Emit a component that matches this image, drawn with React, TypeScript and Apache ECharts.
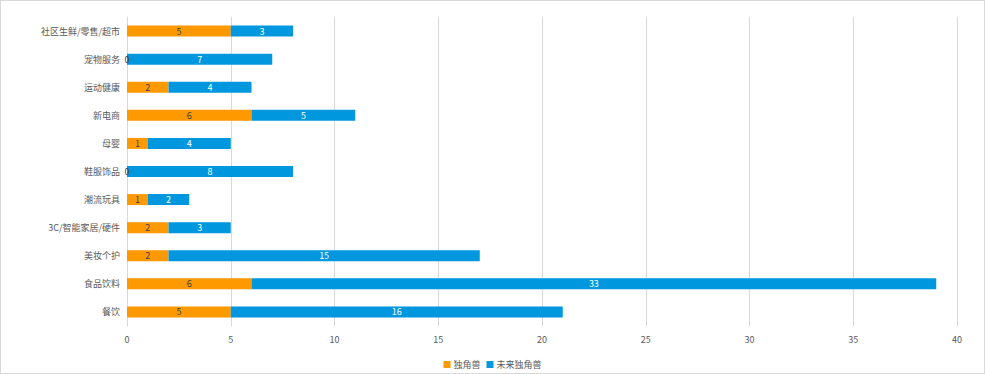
import React, { useEffect, useRef } from "react";
import * as echarts from "echarts";

const categories = [
  "社区生鲜/零售/超市",
  "宠物服务",
  "运动健康",
  "新电商",
  "母婴",
  "鞋服饰品",
  "潮流玩具",
  "3C/智能家居/硬件",
  "美妆个护",
  "食品饮料",
  "餐饮",
];
const unicorn = [5, 0, 2, 6, 1, 0, 1, 2, 2, 6, 5];
const futureUnicorn = [3, 7, 4, 5, 4, 8, 2, 3, 15, 33, 16];
const seriesNames = ["独角兽", "未来独角兽"];

const FONT = "'Noto Sans CJK SC', 'Noto Sans', sans-serif";

export default function App() {
  const ref = useRef<HTMLDivElement>(null);
  useEffect(() => {
    if (!ref.current) return;
    const chart = echarts.init(ref.current, undefined, { renderer: "svg" });
    chart.setOption({
      animation: false,
      textStyle: { fontFamily: FONT },
      legend: {
        data: seriesNames,
        top: 355,
        left: "center",
        itemWidth: 7,
        itemHeight: 7,
        itemGap: 6,
        icon: "rect",
        textStyle: { fontSize: 9, color: "#595959", fontFamily: FONT, padding: [0, 0, 0, -2] },
      },
      grid: { left: 127, right: 28, top: 17, bottom: 48 },
      xAxis: {
        type: "value",
        min: 0,
        max: 40,
        interval: 5,
        axisLine: { show: false },
        axisTick: { show: false },
        splitLine: { lineStyle: { color: "#d9d9d9", width: 1 } },
        axisLabel: { fontSize: 9, color: "#595959", margin: 9, fontFamily: FONT },
      },
      yAxis: {
        type: "category",
        data: categories,
        inverse: true,
        axisLine: { show: true, lineStyle: { color: "#d9d9d9" } },
        axisTick: { show: false },
        axisLabel: { fontSize: 9, color: "#595959", margin: 7, fontFamily: FONT },
      },
      series: [
        {
          name: seriesNames[0],
          type: "bar",
          stack: "total",
          data: unicorn,
          barWidth: 11,
          itemStyle: { color: "#FF9900" },
          label: {
            show: true,
            position: "inside",
            fontSize: 9,
            color: "#404040",
            fontFamily: FONT,
          },
        },
        {
          name: seriesNames[1],
          type: "bar",
          stack: "total",
          data: futureUnicorn,
          barWidth: 11,
          itemStyle: { color: "#0097DE" },
          label: {
            show: true,
            position: "inside",
            fontSize: 9,
            color: "#ffffff",
            fontFamily: FONT,
          },
        },
      ],
    });
    return () => chart.dispose();
  }, []);
  return (
    <div
      style={{
        position: "fixed",
        left: 0,
        top: 0,
        width: 985,
        height: 374,
        boxSizing: "border-box",
        border: "1px solid #d9d9d9",
        background: "#fff",
      }}
    >
      <div ref={ref} style={{ position: "absolute", left: -1, top: -1, width: 985, height: 374 }} />
    </div>
  );
}
